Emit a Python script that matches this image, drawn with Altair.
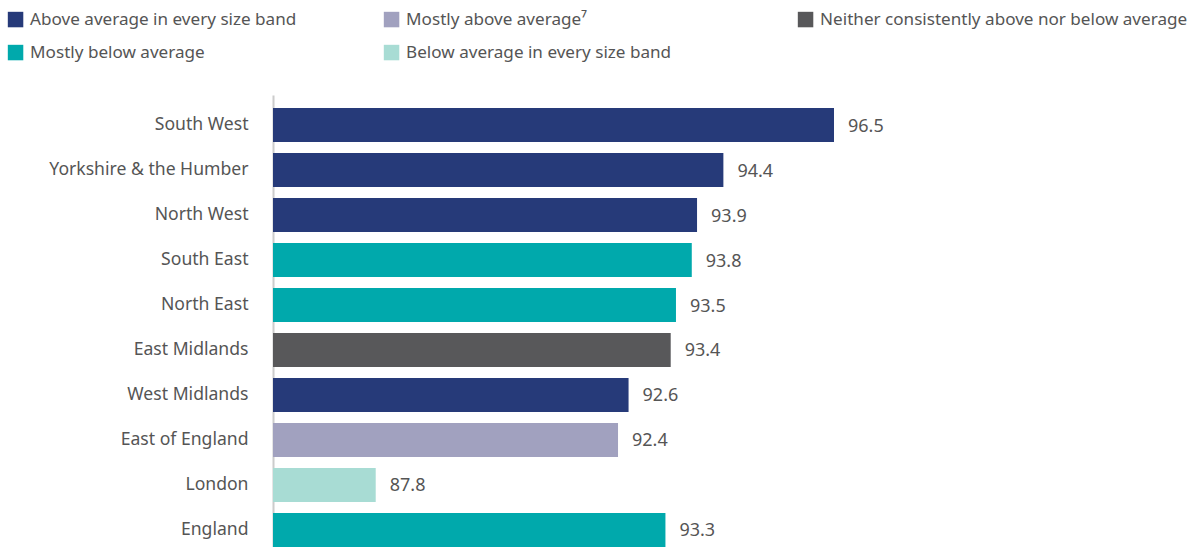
import altair as alt
import pandas as pd

regions = ["South West", "Yorkshire & the Humber", "North West", "South East",
           "North East", "East Midlands", "West Midlands", "East of England",
           "London", "England"]
values = [96.5, 94.4, 93.9, 93.8, 93.5, 93.4, 92.6, 92.4, 87.8, 93.3]

cat_above = "Above average in every size band"
cat_mostly_above = "Mostly above average⁷"
cat_neither = "Neither consistently above nor below average"
cat_mostly_below = "Mostly below average"
cat_below = "Below average in every size band"

categories = [cat_above, cat_above, cat_above, cat_mostly_below, cat_mostly_below,
              cat_neither, cat_above, cat_mostly_above, cat_below, cat_mostly_below]

palette = {
    cat_above: "#263a79",
    cat_mostly_above: "#a1a1bf",
    cat_neither: "#58585a",
    cat_mostly_below: "#00a9ac",
    cat_below: "#a8dcd4",
}

# legend columns (row-major order in the reference)
legend_groups = [[cat_above, cat_mostly_below], [cat_mostly_above, cat_below], [cat_neither]]
legend_x = [-266, 110, 524]

x_domain = [85.85, 96.5]
FONT = "Noto Sans"
TEXT_COLOR = "#555555"

df = pd.DataFrame({"Region": regions, "Value": values, "Category": categories})

base = alt.Chart(df).encode(
    y=alt.Y("Region:N", sort=regions, title=None,
            scale=alt.Scale(paddingInner=0.244, paddingOuter=0.289),
            axis=alt.Axis(domainColor="#cccccc", domainWidth=2, ticks=False,
                          labelFontSize=17.6, labelFont=FONT, labelColor=TEXT_COLOR,
                          labelPadding=25, labelLimit=400)),
    x=alt.X("Value:Q", title=None, axis=None,
            scale=alt.Scale(domain=x_domain, zero=False, clamp=True, nice=False)),
)

layers = []
for grp, lx in zip(legend_groups, legend_x):
    layer = base.transform_filter(
        alt.FieldOneOfPredicate(field="Category", oneOf=grp)
    ).mark_bar().encode(
        color=alt.Color("Category:N",
                        scale=alt.Scale(domain=grp, range=[palette[c] for c in grp]),
                        legend=alt.Legend(title=None, orient="none", legendX=lx, legendY=-84,
                                          symbolType="square", symbolSize=240,
                                          symbolStrokeWidth=0, symbolOpacity=1,
                                          labelFontSize=17.1, labelFont=FONT,
                                          labelColor=TEXT_COLOR, labelOffset=6,
                                          rowPadding=15, padding=0, labelLimit=500))
    )
    layers.append(layer)

labels = base.mark_text(align="left", baseline="middle", dx=14, dy=1.5,
                        fontSize=18, font=FONT, color=TEXT_COLOR).encode(
    text=alt.Text("Value:Q", format=".1f")
)

chart = alt.layer(*layers, labels).resolve_scale(color="independent").properties(
    width=561, height=465, background="white",
    padding={"left": 7, "top": 11, "right": 0, "bottom": 0},
).configure_view(stroke=None)

chart.save("out.html", embed_options={"renderer": "svg", "actions": False})
